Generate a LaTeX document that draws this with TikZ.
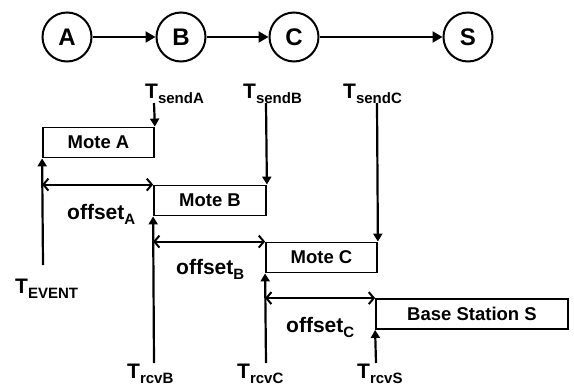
\documentclass[tikz,border=0pt]{standalone}
\usepackage{fontspec}
\setmainfont{Liberation Sans}
\usetikzlibrary{arrows.meta}
\tikzstyle{station} = [draw=black, line width=2pt, circle, minimum size=49pt,
    inner sep=0, font=\fontsize{24}{24}\selectfont\bfseries]
\tikzstyle{mote} = [draw=black, line width=1.8pt, rectangle, minimum height=30pt,
    inner sep=0, font=\fontsize{18.5}{18.5}\selectfont\bfseries]
\tikzstyle{timelbl} = [inner sep=0, anchor=base west, font=\fontsize{21}{21}\selectfont\bfseries]
\tikzstyle{hop} = [line width=2.2pt, -{Triangle[length=10pt,width=11pt]}]
\tikzstyle{tick} = [line width=2.2pt, -{Triangle[length=8pt,width=9pt]}]
\tikzstyle{span} = [line width=2pt,
    {Straight Barb[length=5pt,width=12pt]}-{Straight Barb[length=5pt,width=12pt]}]
\newcommand{\lowsub}[1]{\raisebox{-5pt}{\fontsize{15}{15}\selectfont #1}}

\begin{document}
\begin{tikzpicture}[x=1pt, y=-1pt]
\useasboundingbox (0,0) rectangle (574,389);
% nodes of the route
\node[station] (A) at (67,37) {A};
\node[station] (B) at (181,37) {B};
\node[station] (C) at (294,37) {C};
\node[station] (S) at (468,37) {S};
\draw[hop] (A) -- (B);
\draw[hop] (B) -- (C);
\draw[hop] (C) -- (S);

% timeline boxes
\node[mote, minimum width=111pt] (moteA) at (98.5,142.5) {Mote A};
\node[mote, minimum width=112pt] (moteB) at (210,200.5) {Mote B};
\node[mote, minimum width=111pt] (moteC) at (321.5,257.5) {Mote C};
\node[mote, minimum width=192pt] (baseS) at (472,314) {Base Station S};

% send times
\node[timelbl] (tsendA) at (145,98) {T\lowsub{sendA}};
\node[timelbl] (tsendB) at (243,98) {T\lowsub{sendB}};
\node[timelbl] (tsendC) at (343,98) {T\lowsub{sendC}};
\coordinate (sendA) at (154,103);
\coordinate (sendB) at (266,103);
\coordinate (sendC) at (377,103);
\draw[tick] (sendA) -- (moteA.north east);
\draw[tick] (sendB) -- (moteB.north east);
\draw[tick] (sendC) -- (moteC.north east);

% receive times
\node[timelbl] (tevent) at (15,293) {T\lowsub{EVENT}};
\node[timelbl] (trcvB) at (127,378) {T\lowsub{rcvB}};
\node[timelbl] (trcvC) at (237,378) {T\lowsub{rcvC}};
\node[timelbl] (trcvS) at (357,378) {T\lowsub{rcvS}};
\coordinate (event) at (43,265);
\coordinate (rcvB) at (154,363);
\coordinate (rcvC) at (266,363);
\coordinate (rcvS) at (376,363);
\draw[tick] (event) -- (moteA.south west);
\draw[tick] (rcvB) -- (moteB.south west);
\draw[tick] (rcvC) -- (moteC.south west);
\draw[tick] (rcvS) -- (baseS.south west);

% offsets
\draw[span] (moteA.west |- moteB.north) -- (moteB.north west);
\draw[span] (moteB.west |- moteC.north) -- (moteC.north west);
\draw[span] (moteC.west |- baseS.north) -- (baseS.north west);
\node[timelbl] (offA) at (67,219) {offset\lowsub{A}};
\node[timelbl] (offB) at (176,274) {offset\lowsub{B}};
\node[timelbl] (offC) at (286,332) {offset\lowsub{C}};
\end{tikzpicture}
\end{document}
